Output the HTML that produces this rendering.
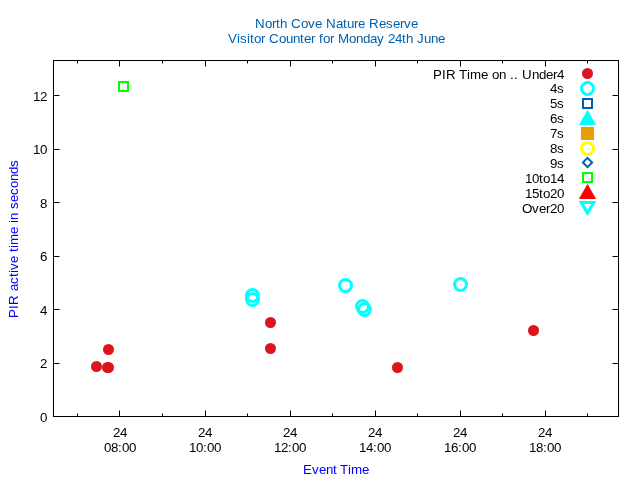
<!DOCTYPE html>
<html><head><meta charset="utf-8"><title>Visitor Counter</title>
<style>
html,body{margin:0;padding:0;background:#fff;}
svg{display:block;font-family:"Liberation Sans",sans-serif;font-size:13.333px;}
</style></head><body>
<svg width="640" height="480" viewBox="0 0 640 480">
<rect width="640" height="480" fill="#fff"/>

<path d="M53.5,416.5h6M618.5,416.5h-6M53.5,363.5h6M618.5,363.5h-6M53.5,309.5h6M618.5,309.5h-6M53.5,256.5h6M618.5,256.5h-6M53.5,202.5h6M618.5,202.5h-6M53.5,149.5h6M618.5,149.5h-6M53.5,95.5h6M618.5,95.5h-6M77.5,416.5v-3M77.5,60.5v3M119.5,416.5v-6M119.5,60.5v6M162.5,416.5v-3M162.5,60.5v3M205.5,416.5v-6M205.5,60.5v6M247.5,416.5v-3M247.5,60.5v3M290.5,416.5v-6M290.5,60.5v6M332.5,416.5v-3M332.5,60.5v3M375.5,416.5v-6M375.5,60.5v6M417.5,416.5v-3M417.5,60.5v3M460.5,416.5v-6M460.5,60.5v6M502.5,416.5v-3M502.5,60.5v3M545.5,416.5v-6M545.5,60.5v6M587.5,416.5v-3M587.5,60.5v3" stroke="#000" stroke-width="1" fill="none"/>
<rect x="53.5" y="60.5" width="565.0" height="356.0" fill="none" stroke="#000" stroke-width="1"/>
<g fill="#000">
<text x="39.9" y="422">0</text>
<text x="39.9" y="368.4">2</text>
<text x="39.9" y="315.35">4</text>
<text x="39.9" y="260.9">6</text>
<text x="39.9" y="207.8">8</text>
<text x="32.9 39.9" y="154.25">10</text>
<text x="32.9 39.9" y="100.7">12</text>
<text x="113 120" y="437">24</text>
<text x="104 111 118 122 129" y="452.2">08:00</text>
<text x="198 205" y="437">24</text>
<text x="189 196 203 207 214" y="452.2">10:00</text>
<text x="283 290" y="437">24</text>
<text x="274 281 288 292 299" y="452.2">12:00</text>
<text x="368 375" y="437">24</text>
<text x="359 366 373 377 384" y="452.2">14:00</text>
<text x="453 460" y="437">24</text>
<text x="444 451 458 462 469" y="452.2">16:00</text>
<text x="538 545" y="437">24</text>
<text x="529 536 543 547 554" y="452.2">18:00</text>
</g>
<g fill="#0060ad">
<text x="255 265 272 276 280 287 291 301 308 315 322 326 336 343 347 354 358 365 369 379 386 393 400 404 411" y="28.2">North Cove Nature Reserve</text>
<text x="228 237 240 247 250 254 261 265 269 279 286 293 300 304 311 315 319 323 330 334 338 349 356 363 370 377 384 388 395 402 406 413 417 424 431 438" y="43">Visitor Counter for Monday 24th June</text>
</g>
<g fill="#0000ff">
<text x="303 312 319 326 333 337 340 348 351 362" y="474">Event Time</text>
<text x="-79 -70 -66 -56 -52 -45 -38 -34 -31 -24 -17 -13 -9 -6 5 12 16 19 26 30 37 44 51 58 65 72" y="0" transform="translate(18.1,239) rotate(-90)">PIR active time in seconds</text>
</g>
<g fill="#000">
<text x="433 442 446 456 459 467 470 481 488 492 499 506 510 514 518 522 532 539 546 553 557" y="78.65">PIR Time on .. Under4</text>
<text x="550 557" y="92.7">4s</text>
<text x="550 557" y="107.7">5s</text>
<text x="550 557" y="122.7">6s</text>
<text x="550 557" y="137.7">7s</text>
<text x="550 557" y="152.7">8s</text>
<text x="550 557" y="167.7">9s</text>
<text x="525 532 539 543 550 557" y="182.7">10to14</text>
<text x="525 532 539 543 550 557" y="197.7">15to20</text>
<text x="522 532 539 546 550 557" y="212.7">Over20</text>
</g>
<circle cx="587.5" cy="73.5" r="5.5" fill="#dc141e"/>
<circle cx="587.5" cy="88.5" r="6" fill="none" stroke="#00ffff" stroke-width="3"/>
<rect x="583" y="99" width="9" height="9" fill="none" stroke="#0060ad" stroke-width="2"/>
<path d="M587.5,109.7L596.1,124.9H578.9z" fill="#00ffff"/>
<rect x="580.95" y="127.0" width="13.1" height="13" fill="#e69f00"/>
<circle cx="587.5" cy="148.5" r="6" fill="none" stroke="#ffff00" stroke-width="3"/>
<path d="M587.5,157.9l4.6,4.6l-4.6,4.6l-4.6,-4.6z" fill="none" stroke="#0060ad" stroke-width="2"/>
<rect x="583" y="173" width="9" height="9" fill="none" stroke="#00ff00" stroke-width="2"/>
<path d="M587.5,183.7L596.1,198.9H578.9z" fill="#ff0000"/>
<path d="M587.5,213.15L581.35,202.5H593.65z" fill="none" stroke="#00ffff" stroke-width="3.1" stroke-miterlimit="10"/>
<rect x="119" y="82" width="9" height="9" fill="none" stroke="#00ff00" stroke-width="2"/>
<circle cx="96.5" cy="366.5" r="5.5" fill="#dc141e"/>
<circle cx="107.5" cy="367.5" r="5.5" fill="#dc141e"/>
<circle cx="108.5" cy="367.5" r="5.5" fill="#dc141e"/>
<circle cx="108.5" cy="349.5" r="5.5" fill="#dc141e"/>
<circle cx="270.5" cy="322.5" r="5.5" fill="#dc141e"/>
<circle cx="270.5" cy="348.5" r="5.5" fill="#dc141e"/>
<circle cx="397.5" cy="367.5" r="5.5" fill="#dc141e"/>
<circle cx="533.5" cy="330.5" r="5.5" fill="#dc141e"/>
<circle cx="252.5" cy="295.5" r="6" fill="none" stroke="#00ffff" stroke-width="3"/>
<circle cx="252.5" cy="299.5" r="6" fill="none" stroke="#00ffff" stroke-width="3"/>
<circle cx="345.5" cy="285.5" r="6" fill="none" stroke="#00ffff" stroke-width="3"/>
<circle cx="362.5" cy="306.5" r="6" fill="none" stroke="#00ffff" stroke-width="3"/>
<circle cx="364.5" cy="309.5" r="6" fill="none" stroke="#00ffff" stroke-width="3"/>
<circle cx="460.5" cy="284.5" r="6" fill="none" stroke="#00ffff" stroke-width="3"/>
</svg></body></html>
